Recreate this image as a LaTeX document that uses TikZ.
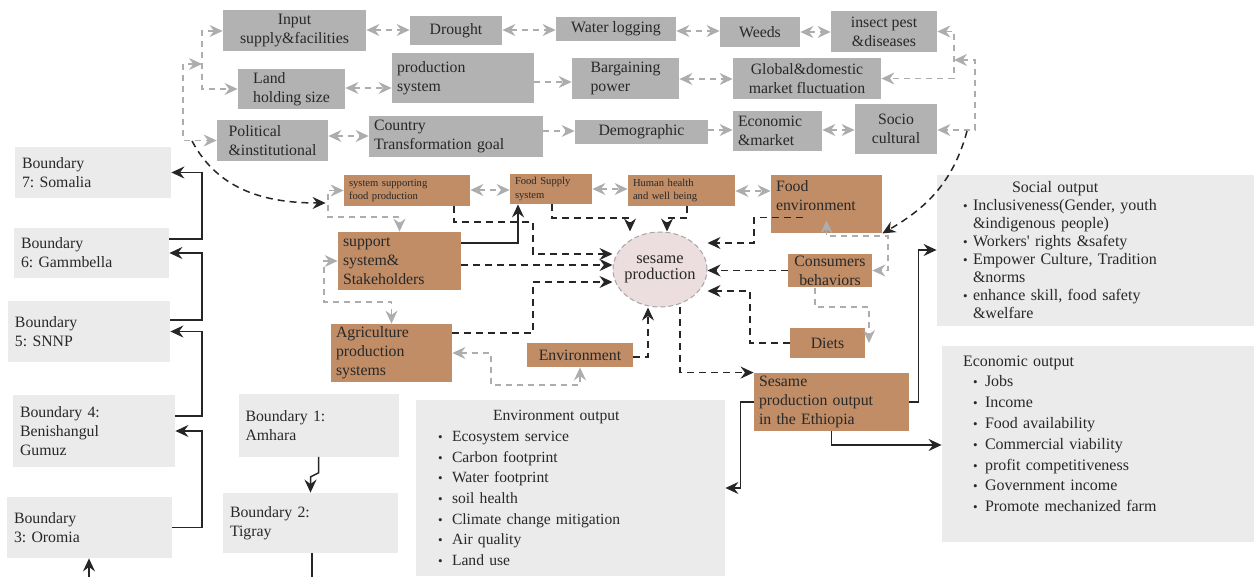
\documentclass[tikz,border=0pt]{standalone}
\usepackage{fontspec}
\setmainfont{Liberation Serif}
\usepackage{tikz}
\usetikzlibrary{calc,arrows.meta,shapes.geometric}
\frenchspacing

\definecolor{sesamebrown}{RGB}{192,141,103}
\definecolor{sesamepink}{RGB}{236,221,222}
\definecolor{inkgray}{RGB}{40,40,40}

\newcommand{\blt}[1]{\makebox[#1][l]{\fontsize{6.5}{6.5}\selectfont\textbullet}}

\tikzset{
  wh/.style 2 args={minimum width=#1, minimum height=#2},
  basebox/.style={inner xsep=2.5pt, inner ysep=1pt, text=inkgray,
    font=\fontsize{7.9}{9.6}\selectfont},
  factor/.style={basebox, fill=black!30},
  actor/.style={basebox, fill=sesamebrown},
  tinyactor/.style={actor, font=\fontsize{5.3}{6.8}\selectfont},
  region/.style={basebox, fill=black!8, inner xsep=3.5pt},
  outbox/.style={region},
  sesameEll/.style={ellipse, draw=black!35, dash pattern=on 2.5pt off 1.5pt,
    line width=0.5pt, fill=sesamepink, inner sep=0pt, wh={47pt}{37.5pt}},
  grayflow/.style={draw=black!32, line width=0.65pt, dash pattern=on 3pt off 2.5pt},
  flow/.style={draw=black!85, line width=0.75pt, dash pattern=on 3.5pt off 2.5pt},
  link/.style={draw=black!85, line width=0.75pt}
}

\begin{document}
\begin{tikzpicture}[x=0.5pt,y=-0.5pt,>={Stealth[length=6.5pt,width=6pt,inset=2.2pt]}]
    \useasboundingbox (0,0) rectangle (1254,577);
    % factors
    \node[factor, wh={71.5pt}{20.5pt}, align=center] (input) at (294.5,30.5) {Input\\supply\&facilities};
    \node[factor, wh={46pt}{14.5pt}] (drought) at (456,30.5) {Drought};
    \node[factor, wh={60pt}{12pt}] (waterlog) at (616,29) {Water logging};
    \node[factor, wh={40pt}{15pt}] (weeds) at (760,32) {Weeds};
    \node[factor, wh={53pt}{20.5pt}, align=center] (insect) at (884,31.5) {insect pest\\\&diseases};
    \node[factor, wh={53.5pt}{20pt}, align=left] (land) at (291.5,89) {Land\\holding size};
    \node[factor, wh={71pt}{25pt}, text width=66pt, align=left] (prodsys) at (463,78) {production\\system};
    \node[factor, wh={53.5pt}{20.5pt}, align=left] (bargain) at (625.5,78.5) {Bargaining\\power};
    \node[factor, wh={74pt}{20.5pt}, align=center] (global) at (807,78.5) {Global\&domestic\\market fluctuation};
    \node[factor, wh={55.5pt}{20.5pt}, align=left] (political) at (272.5,140.5) {Political\\\&institutional};
    \node[factor, wh={87pt}{20.5pt}, text width=82pt, align=left] (country) at (456,136.5) {Country\\Transformation goal};
    \node[factor, wh={66.5pt}{12pt}] (demog) at (641.5,132) {Demographic};
    \node[factor, wh={44.5pt}{20pt}, text width=39.5pt, align=left] (econ) at (777.5,131) {Economic\\\&market};
    \node[factor, wh={41pt}{25pt}, align=center] (socio) at (896,129) {Socio\\cultural};
    % actors
    \node[tinyactor, wh={63pt}{15.5pt}, text width=58pt, align=left] (sysup) at (407,190.5) {system supporting\\food production};
    \node[tinyactor, wh={41pt}{15pt}, text width=36pt, align=left] (foodsup) at (551,189) {Food Supply\\system};
    \node[tinyactor, wh={53.5pt}{15.5pt}, text width=48.5pt, align=left] (human) at (681.5,190.5) {Human health\\and well being};
    \node[actor, wh={55.5pt}{29pt}, text width=50.5pt, align=left] (foodenv) at (826.5,204) {Food\\environment\\[-1pt]\mbox{}};
    \node[actor, wh={61.5pt}{29pt}, text width=56.5pt, align=left] (support) at (399.5,261) {support\\system\&\\Stakeholders};
    \node[actor, wh={42pt}{15.5pt}, align=center] (consumers) at (830,270.5) {Consumers\\behaviors};
    \node[actor, wh={60.5pt}{29pt}, text width=55.5pt, align=left] (agri) at (391.5,353) {Agriculture\\production\\systems};
    \node[actor, wh={53pt}{12pt}] (env) at (580,355) {Environment};
    \node[actor, wh={37.5pt}{15pt}] (diets) at (827.5,343) {Diets};
    \node[actor, wh={77.5pt}{29pt}, text width=72.5pt, align=left] (output) at (831.5,402) {Sesame\\production output\\in the Ethiopia};
    \node[sesameEll, label={[text=inkgray, align=center, font=\fontsize{8.2}{8.3}\selectfont]center:sesame\\production}] (sesame) at (660,269.5) {};
    % boundaries
    \node[region, wh={78pt}{25.5pt}, text width=71pt, align=left] (somalia) at (93,172.5) {Boundary\\7: Somalia};
    \node[region, wh={77.5pt}{25pt}, text width=70.5pt, align=left] (gamm) at (91.5,253) {Boundary\\6: Gammbella};
    \node[region, wh={81pt}{30.5pt}, text width=74pt, align=left] (snnp) at (89,331.5) {Boundary\\5: SNNP};
    \node[region, wh={81pt}{36pt}, text width=74pt, align=left] (benish) at (94,431) {Boundary 4:\\Benishangul\\Gumuz};
    \node[region, wh={82.5pt}{30.5pt}, text width=75.5pt, align=left] (oromia) at (89.5,527.5) {Boundary\\3: Oromia};
    \node[region, wh={80pt}{31pt}, text width=73pt, align=left] (amhara) at (318.5,425.5) {Boundary 1:\\Amhara};
    \node[region, wh={87.5pt}{30pt}, text width=80.5pt, align=left] (tigray) at (310.5,523) {Boundary 2:\\Tigray};
    % outputs
    \node[outbox, wh={154.5pt}{88pt}, inner xsep=11pt, text width=132.5pt, align=left,
      font=\fontsize{7.8}{10.35}\selectfont] (envout) at (570.5,488) {%
      \hspace*{27.5pt}Environment output\\
      \blt{7pt}Ecosystem service\\
      \blt{7pt}Carbon footprint\\
      \blt{7pt}Water footprint\\
      \blt{7pt}soil health\\
      \blt{7pt}Climate change mitigation\\
      \blt{7pt}Air quality\\
      \blt{7pt}Land use};
    \node[outbox, wh={158.5pt}{75.5pt}, inner xsep=13pt, text width=132.5pt, align=left,
      font=\fontsize{8}{9}\selectfont] (socout) at (1095.5,250.5) {%
      \hspace*{24.5pt}Social output\\
      \blt{5pt}Inclusiveness(Gender, youth\\
      \hspace*{5pt}\&indigenous people)\\
      \blt{5pt}Workers\textquotesingle{} rights \&safety\\
      \blt{5pt}Empower Culture, Tradition\\
      \hspace*{5pt}\&norms\\
      \blt{5pt}enhance skill, food safety\\
      \hspace*{5pt}\&welfare};
    \node[outbox, wh={156pt}{98pt}, inner xsep=10.5pt, text width=135pt, align=left,
      font=\fontsize{8}{10.4}\selectfont] (ecoout) at (1098,444) {%
      Economic output\\
      \hspace*{5pt}\blt{6pt}Jobs\\
      \hspace*{5pt}\blt{6pt}Income\\
      \hspace*{5pt}\blt{6pt}Food availability\\
      \hspace*{5pt}\blt{6pt}Commercial viability\\
      \hspace*{5pt}\blt{6pt}profit competitiveness\\
      \hspace*{5pt}\blt{6pt}Government income\\
      \hspace*{5pt}\blt{6pt}Promote mechanized farm\\[0pt]\mbox{}};

    % light links between factors
    \foreach \a/\b/\y in {input/drought/30, drought/waterlog/30, waterlog/weeds/31,
      weeds/insect/32, land/prodsys/88, bargain/global/79, political/country/136,
      econ/socio/130, sysup/foodsup/190, foodsup/human/189, human/foodenv/191}
      \draw[grayflow,<->] (\a.east |- 0,\y) -- (\b.west |- 0,\y);
    \foreach \a/\b/\y in {prodsys/bargain/82, country/demog/131, demog/econ/130}
      \draw[grayflow,->] (\a.east |- 0,\y) -- (\b.west |- 0,\y);

    \coordinate (lbJoin) at (202,64);
    \coordinate (rbJoin) at (954,60);
    \coordinate (lbFoot) at (192,141);
    \coordinate (rbFoot) at (967,131);
    \draw[grayflow,<->] (input.west |- 0,31) -| (lbJoin) |- (land.west);
    \draw[grayflow,<->] (lbJoin) -| (183,100) |- (political.west);
    \draw[grayflow,<->] (insect.east) -| (rbJoin) |- (global.east);
    \draw[grayflow,<->] (rbJoin) -| (975,100) |- (socio.east |- 0,130);
    \draw[grayflow,<->] (sysup.west) -| (328,217) -| (support.north);
    \draw[grayflow,<->] (support.west) -| (324,302) -| (agri.north);
    \draw[grayflow,<->] (agri.east) -| (491,385) -| (env.south);
    \draw[grayflow,<->] ([yshift=6.5pt]foodenv.south) -- (foodenv.south |- 0,236) -| (888,253) |- (consumers.east);
    \draw[grayflow,->] (consumers.south -| 815,0) |- (869,307) -- (diets.east -| 869,0);

    % flows into sesame production
    \draw[flow,->] (lbFoot) to[out=-62,in=180] ($(sysup.west)+(-18,12.5)$);
    \draw[flow,->] (rbFoot) to[out=-105,in=30] (foodenv.south east);
    \draw[flow,->] (sysup.south -| 454,0) |- (533,222) |- (sesame.west |- 0,254);
    \draw[flow,->] (support.east |- 0,265) -- (sesame.west |- 0,265);
    \draw[flow,->] (agri.east |- 0,333) -| (533,282) -- (sesame.west |- 0,282);
    \draw[flow,->] (foodsup.south -| 552,0) |- (630,218) -- (sesame.north -| 630,0);
    \draw[flow,->] (human.south -| 687,0) |- (667,218) -- (sesame.north -| 667,0);
    \draw[flow,->] ([xshift=16pt,yshift=8pt]foodenv.south west) -| (754,243) -- (sesame.east |- 0,243);
    \draw[flow,->] (consumers.west) -- (sesame.east |- consumers.west);
    \draw[flow,->] (diets.west) -| (750,291) -- (sesame.east |- 0,291);
    \draw[flow,->] (env.east |- 0,357) -| (sesame.south -| 648,0);
    \draw[flow,->] (sesame.south -| 680,0) |- (output.north west);

    % solid links
    \draw[link,->] (support.east |- 0,243) -| (foodsup.south -| 518,0);
    \draw[link,->] (output.east) -- ++(9,0) |- (socout.west |- 0,250);
    \draw[link,->] (output.south) |- (ecoout.west |- 0,445);
    \draw[link,->] (output.west) -- ++(-13,0) |- (envout.east |- 0,488);
    \foreach \a/\b/\y in {oromia/benish/527.5, benish/snnp/416, snnp/gamm/320, gamm/somalia/239}
      \draw[link,->] (\a.east |- 0,\y) -- (202,\y) |- (\b.east);
    \draw[link,->] (amhara.south) -- ++(0,16) -- ++(-8,4) -- (tigray.north);
    \coordinate (offTig) at (312,580);
    \coordinate (offOro) at (89,580);
    \draw[link] (tigray.south -| offTig) -- (offTig);
    \draw[link,->] (offOro) -- (oromia.south -| offOro);
\end{tikzpicture}
\end{document}
